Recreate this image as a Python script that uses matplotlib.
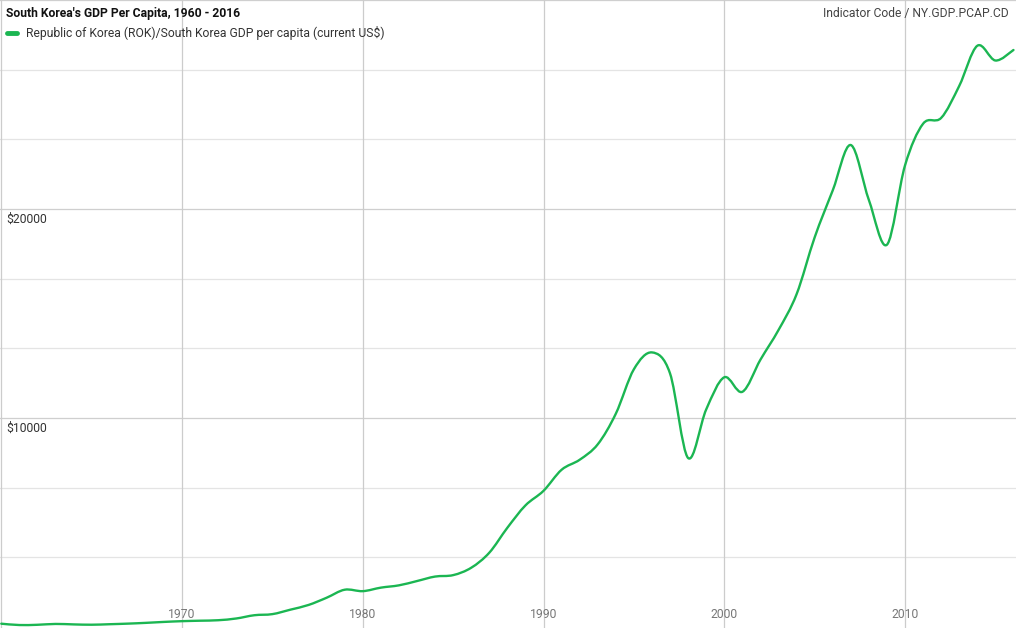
import numpy as np
import matplotlib.pyplot as plt
from matplotlib.path import Path
from matplotlib.patches import PathPatch

plt.rcParams['font.family'] = ['Roboto', 'DejaVu Sans']

# data
years = list(range(1960, 2017))
gdp = [158, 94, 106, 146, 124, 109, 133, 161, 198, 243,
       279, 301, 324, 407, 563, 616, 830, 1055, 1400, 1784,
       1715, 1883, 1993, 2199, 2413, 2482, 2835, 3555, 4749, 5818,
       6516, 7523, 8002, 8741, 10206, 12333, 13138, 12131, 8085, 10409,
       11948, 11253, 12789, 14209, 15921, 18640, 20888, 23061, 20431, 18292,
       22087, 24080, 24359, 25890, 27811, 27105, 27608]
x_ticks = [1970, 1980, 1990, 2000, 2010]
y_ticks = [10000, 20000]

GREEN = '#1bb652'
FS = 8.7

fig = plt.figure(figsize=(10.16, 6.28), dpi=100)
ax = fig.add_axes([0, 0, 1, 1])
ax.set_xlim(1959.93, 2016.14)
ax.set_ylim(-48, 30000)
ax.axis('off')

# grid
for k in range(1, 10):
    v = k * 10000 / 3
    major = k % 3 == 0
    ax.axhline(v, color='#cfcfcf' if major else '#e4e4e4', lw=0.9, zorder=0)
for yr in [1960] + x_ticks:
    ax.axvline(yr, color='#cccccc', lw=0.9, zorder=0)

# smooth curve through the points (catmull-rom as bezier segments)
pts = np.column_stack([years, gdp]).astype(float)
ext = np.vstack([pts[0], pts, pts[-1]])
verts = [pts[0]]
codes = [Path.MOVETO]
t = 1 / 6
for i in range(len(pts) - 1):
    p0, p1, p2, p3 = ext[i], ext[i + 1], ext[i + 2], ext[i + 3]
    verts += [p1 + (p2 - p0) * t, p2 - (p3 - p1) * t, p2]
    codes += [Path.CURVE4] * 3
ax.add_patch(PathPatch(Path(verts, codes), fill=False, ec=GREEN, lw=1.7,
                       capstyle='round', joinstyle='round', zorder=3))

# tick labels inside the plot
for yr in x_ticks:
    ax.annotate(str(yr), xy=(yr, 0), xycoords=('data', 'figure pixels'),
                xytext=(0, 14), textcoords='offset pixels',
                ha='center', va='center', fontsize=FS, color='#777777')
for v in y_ticks:
    ax.annotate('$' + str(v), xy=(0, v), xycoords=('figure pixels', 'data'),
                xytext=(6, -10), textcoords='offset pixels',
                ha='left', va='center', fontsize=FS, color='#333333')

# title, indicator and legend
fig.text(6 / 1016, 1 - 13 / 628, "South Korea's GDP Per Capita, 1960 - 2016",
         ha='left', va='center', fontsize=FS, fontweight='bold', color='#111111')
fig.text(1009 / 1016, 1 - 13 / 628, 'Indicator Code / NY.GDP.PCAP.CD',
         ha='right', va='center', fontsize=FS, color='#444444')
fig.add_artist(plt.Line2D([7 / 1016, 17 / 1016], [1 - 33 / 628, 1 - 33 / 628],
                          color=GREEN, lw=3.5, solid_capstyle='round'))
fig.text(26 / 1016, 1 - 33 / 628, 'Republic of Korea (ROK)/South Korea GDP per capita (current US$)',
         ha='left', va='center', fontsize=FS, color='#333333')

fig.savefig('out.png', dpi=100, facecolor='white')
